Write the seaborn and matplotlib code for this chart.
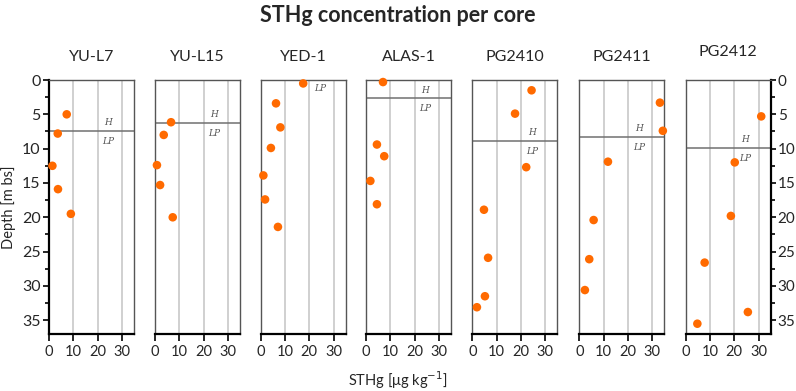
import matplotlib
matplotlib.use("Agg")
import matplotlib.pyplot as plt
import seaborn as sns
import pandas as pd
from matplotlib.ticker import MultipleLocator

sns.set_theme(style="white")
plt.rcParams['font.family'] = ['Lato', 'DejaVu Sans']

cores = ["YU-L7", "YU-L15", "YED-1", "ALAS-1", "PG2410", "PG2411", "PG2412"]

sthg_yul7 = [7.3, 3.6, 1.4, 3.7, 9.0]
depth_yul7 = [5.0, 7.8, 12.5, 15.9, 19.5]

sthg_yul15 = [6.6, 3.6, 0.8, 2.1, 7.3]
depth_yul15 = [6.15, 8.0, 12.4, 15.3, 20.0]

sthg_yed1 = [17.5, 6.3, 8.1, 4.2, 1.1, 1.8, 7.1]
depth_yed1 = [0.5, 3.4, 6.9, 9.9, 13.9, 17.4, 21.4]

sthg_alas1 = [7.0, 4.5, 7.5, 1.8, 4.5]
depth_alas1 = [0.3, 9.4, 11.1, 14.7, 18.1]

sthg_pg2410 = [24.4, 17.6, 22.2, 4.8, 6.5, 5.2, 1.9]
depth_pg2410 = [1.5, 4.9, 12.7, 18.9, 25.9, 31.5, 33.1]

sthg_pg2411 = [33.2, 34.4, 11.8, 5.9, 4.1, 2.3]
depth_pg2411 = [3.3, 7.4, 11.9, 20.4, 26.1, 30.6]

sthg_pg2412 = [31.1, 20.2, 18.6, 7.8, 25.6, 4.8]
depth_pg2412 = [5.3, 12.0, 19.8, 26.6, 33.8, 35.5]

# H / LP boundary depth per core (None = no line)
boundary = [7.4, 6.25, None, 2.66, 8.87, 8.33, 9.9]

sthg = [sthg_yul7, sthg_yul15, sthg_yed1, sthg_alas1, sthg_pg2410, sthg_pg2411, sthg_pg2412]
depth = [depth_yul7, depth_yul15, depth_yed1, depth_alas1, depth_pg2410, depth_pg2411, depth_pg2412]

x_ticks = [0, 10, 20, 30]
y_ticks = [0, 5, 10, 15, 20, 25, 30, 35]

W, H = 796, 391
fig = plt.figure(figsize=(W / 100, H / 100), dpi=100)

lefts = [49, 155, 260.7, 366, 472.3, 579.3, 685.7]
pw = 85
top_px, bot_px = 80, 334

orange = "#FF6A00"
serif = ['DejaVu Serif']

for i, name in enumerate(cores):
    ax = fig.add_axes([lefts[i] / W, 1 - bot_px / H, pw / W, (bot_px - top_px) / H])
    df = pd.DataFrame({"STHg": sthg[i], "Depth": depth[i]})
    for g in [10, 20, 30]:
        ax.axvline(g, color="#c8c8c8", lw=1.2, zorder=0)
    b = boundary[i]
    if b is not None:
        ax.axhline(b, color="#707070", lw=1.1, zorder=1)
        ax.text(24.5, b - 1.2, "H", fontsize=6.5, style="italic", family=serif,
                color="#555555", ha="center", va="center")
        ax.text(24.5, b + 1.5, "LP", fontsize=6.5, style="italic", family=serif,
                color="#555555", ha="center", va="center")
    else:
        ax.text(24.5, 1.2, "LP", fontsize=6.5, style="italic", family=serif,
                color="#555555", ha="center", va="center")
    sns.scatterplot(data=df, x="STHg", y="Depth", ax=ax, color=orange, s=38,
                    edgecolor="none", zorder=3, clip_on=False)
    ax.set_xlim(0, 35)
    ax.set_ylim(37, 0)
    ax.set_xticks(x_ticks)
    ax.set_xlabel("")
    ax.set_ylabel("")
    ax.tick_params(axis="x", direction="out", length=5, width=1.2, color="black",
                   labelsize=10.5, pad=3, bottom=True)
    for s in ["top", "right", "left"]:
        ax.spines[s].set_color("#555555")
        ax.spines[s].set_linewidth(1.0)
    ax.spines["bottom"].set_color("black")
    ax.spines["bottom"].set_linewidth(1.6)
    ax.set_title(name, fontsize=11.5, pad=14 if i < 6 else 17)
    if i == 0:
        ax.set_yticks(y_ticks)
        ax.yaxis.set_minor_locator(MultipleLocator(2.5))
        ax.spines["left"].set_color("black")
        ax.spines["left"].set_linewidth(1.6)
        ax.tick_params(axis="y", which="major", direction="out", length=4, width=1.2,
                       color="black", labelsize=11.5, left=True, pad=2)
        ax.tick_params(axis="y", which="minor", direction="out", length=3, width=1.2,
                       color="black", left=True)
        ax.set_ylabel("Depth [m bs]", fontsize=10.5, labelpad=4)
    elif i == 6:
        ax.set_yticks(y_ticks)
        ax.yaxis.set_minor_locator(MultipleLocator(2.5))
        ax.yaxis.tick_right()
        ax.spines["right"].set_color("black")
        ax.spines["right"].set_linewidth(1.6)
        ax.tick_params(axis="y", which="major", direction="out", length=3.5, width=1.2,
                       color="black", labelsize=11, right=True, left=False, pad=1.5)
        ax.tick_params(axis="y", which="minor", direction="out", length=3, width=1.2,
                       color="black", right=True, left=False)
    else:
        ax.set_yticks(y_ticks)
        ax.tick_params(axis="y", left=False, right=False, labelleft=False, labelright=False)
    ax.grid(False)

fig.text(0.5, 1 - 15 / H, "STHg concentration per core", ha="center", va="center",
         fontsize=15.5, fontweight="bold")
fig.text(0.5, 1 - 380 / H, "STHg [μg kg$^{-1}$]", ha="center", va="center", fontsize=10.5)

fig.savefig("out.png", dpi=100)
